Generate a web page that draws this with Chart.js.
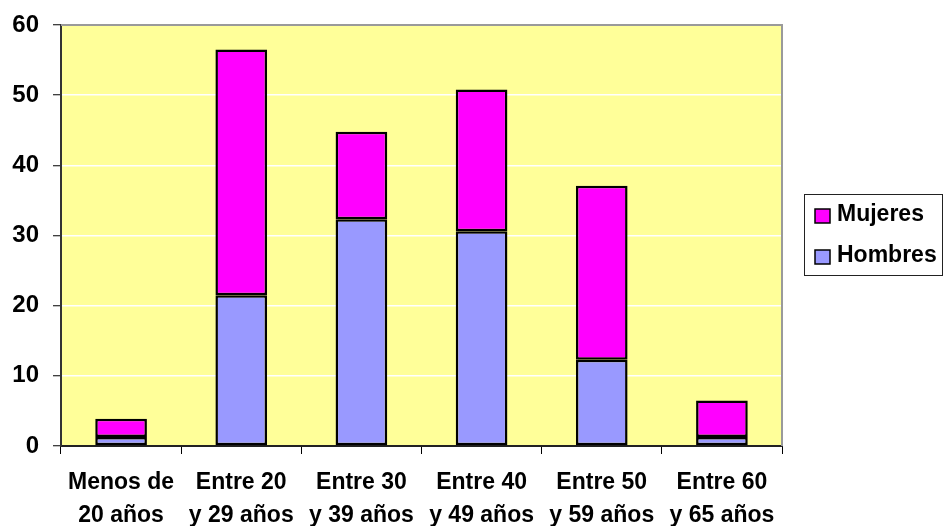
<!DOCTYPE html>
<html>
<head>
<meta charset="utf-8">
<title>Distribución por edad y sexo</title>
<script src="https://cdn.jsdelivr.net/npm/chart.js@4/dist/chart.umd.min.js"></script>
<style>
  html, body { margin: 0; padding: 0; background: #ffffff; }
  #wrap { width: 943px; height: 526px; position: relative; }
</style>
</head>
<body>
<div id="wrap"><canvas id="chart" width="943" height="526"></canvas></div>
<script>
// Age groups (two-line labels)
const categories = [
  ['Menos de', '20 años'],
  ['Entre 20', 'y 29 años'],
  ['Entre 30', 'y 39 años'],
  ['Entre 40', 'y 49 años'],
  ['Entre 50', 'y 59 años'],
  ['Entre 60', 'y 65 años']
];
// Stacked values per group
const hombres = [1.3, 21.5, 32.3, 30.6, 12.3, 1.3];
const mujeres = [2.6, 35.0, 12.5, 20.2, 24.8, 5.2];
// Value axis
const yMin = 0;
const yMax = 60;
const yStep = 10;

const FONT = '"Liberation Sans", Arial, Helvetica, sans-serif';

// Yellow plot area with grey top/right frame
const plotFrame = {
  id: 'plotFrame',
  beforeDraw(chart) {
    const { ctx, chartArea: a } = chart;
    ctx.save();
    ctx.fillStyle = '#FFFF99';
    ctx.fillRect(a.left, a.top, a.right - a.left, a.bottom - a.top);
    ctx.restore();
  },
  afterDatasetsDraw(chart) {
    const { ctx, chartArea: a } = chart;
    ctx.save();
    ctx.strokeStyle = '#9a9a9a';
    ctx.lineWidth = 2;
    ctx.beginPath();
    ctx.moveTo(a.left, a.top);
    ctx.lineTo(a.right, a.top);
    ctx.lineTo(a.right, a.bottom);
    ctx.stroke();
    ctx.restore();
  }
};

// Boxed legend on the right, last series listed first
const boxLegend = {
  id: 'boxLegend',
  afterDraw(chart) {
    const { ctx } = chart;
    const box = { x: 804.5, y: 194.5, w: 138, h: 81 };
    ctx.save();
    ctx.fillStyle = '#ffffff';
    ctx.fillRect(box.x, box.y, box.w, box.h);
    ctx.strokeStyle = '#222222';
    ctx.lineWidth = 1;
    ctx.strokeRect(box.x, box.y, box.w, box.h);
    const items = chart.data.datasets.slice().reverse();
    const rowY = [215, 256];
    ctx.font = 'bold 23px ' + FONT;
    ctx.textBaseline = 'middle';
    ctx.textAlign = 'left';
    items.forEach((ds, i) => {
      const cy = rowY[i];
      ctx.fillStyle = ds.backgroundColor;
      ctx.fillRect(815, cy - 6, 15, 14);
      ctx.strokeStyle = '#000000';
      ctx.lineWidth = 1.5;
      ctx.strokeRect(815, cy - 6, 15, 14);
      ctx.fillStyle = '#000000';
      ctx.fillText(ds.label, 837, cy);
    });
    ctx.restore();
  }
};

new Chart(document.getElementById('chart'), {
  type: 'bar',
  data: {
    labels: categories,
    datasets: [
      {
        label: 'Hombres',
        data: hombres,
        backgroundColor: '#9999FF',
        borderColor: '#000000',
        borderWidth: 2.5,
        borderSkipped: false,
        barPercentage: 0.43,
        categoryPercentage: 1.0
      },
      {
        label: 'Mujeres',
        data: mujeres,
        backgroundColor: '#FF00FF',
        borderColor: '#000000',
        borderWidth: 2.5,
        borderSkipped: false,
        barPercentage: 0.43,
        categoryPercentage: 1.0
      }
    ]
  },
  options: {
    responsive: false,
    animation: false,
    devicePixelRatio: 1,
    layout: { padding: { top: 25, right: 161, left: 0, bottom: 0 } },
    plugins: {
      legend: { display: false },
      tooltip: { enabled: false }
    },
    scales: {
      x: {
        stacked: true,
        grid: {
          offset: true,
          drawOnChartArea: false,
          drawTicks: true,
          tickLength: 8,
          tickColor: '#000000',
          tickWidth: 1
        },
        border: { color: '#222222', width: 2 },
        ticks: {
          color: '#000000',
          font: { family: FONT, size: 23, weight: 'bold', lineHeight: 1.45 },
          padding: 12,
          maxRotation: 0,
          autoSkip: false
        },
        afterFit(scale) {
          scale.height = 80;
          scale.paddingLeft = 0;
          scale.paddingRight = 0;
        }
      },
      y: {
        stacked: true,
        min: yMin,
        max: yMax,
        grid: {
          color: '#ffffff',
          lineWidth: 1.5,
          drawTicks: true,
          tickLength: 8,
          tickColor: '#000000',
          tickWidth: 1
        },
        border: { color: '#333333', width: 2 },
        ticks: {
          stepSize: yStep,
          color: '#000000',
          font: { family: FONT, size: 24, weight: 'bold' },
          padding: 14
        },
        afterFit(scale) {
          scale.width = 61;
          scale.paddingTop = 0;
          scale.paddingBottom = 0;
        }
      }
    }
  },
  plugins: [plotFrame, boxLegend]
});
</script>
</body>
</html>
